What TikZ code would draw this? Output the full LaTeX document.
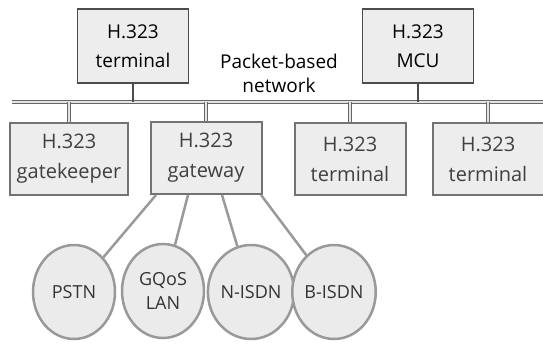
\documentclass[tikz,border=0pt]{standalone}
\usepackage{fontspec}
\setmainfont{Open Sans}
\usetikzlibrary{positioning}
\usetikzlibrary{shapes.geometric}

\tikzset{
  unitbox/.style={draw=black!70, line width=1.2pt, fill=black!7, align=center,
    inner sep=0pt, minimum width=111pt, minimum height=74pt,
    font=\fontsize{19}{29}\selectfont},
  lowbox/.style={unitbox, draw=black!55, line width=2pt, minimum height=72pt,
    text=black!75, font=\fontsize{20}{30}\selectfont},
  netcloud/.style={ellipse, draw=black!40, line width=2.5pt, fill=black!8,
    inner sep=0pt, minimum width=82pt, minimum height=94pt, align=center,
    font=\fontsize{18}{24}\selectfont, text=black!80},
  bus/.style={draw=black!60, double=black!10, double distance=2.4pt, line width=0.8pt},
  link/.style={draw=black!40, line width=2.5pt}
}

\begin{document}
\begin{tikzpicture}[x=1pt, y=-1pt]
  \useasboundingbox (0,0) rectangle (543,345);

  % oberer Teil
  \node[unitbox] (term) at (133,46) {H.323\\terminal};
  \node[unitbox] (mcu)  at (418,46) {H.323\\MCU};
  \node[align=center, font=\fontsize{19}{24}\selectfont] (pnet) at (279,73)
    {Packet-based\\network};

  % Bus
  \coordinate (busL) at (12,102);
  \coordinate (busR) at (543,102);
  \draw[bus] (busL) -- (busR);
  \foreach \n in {term,mcu}
    \draw[black!70, line width=1.2pt] (\n.south) -- (\n.south |- busL);

  % untere Kaesten
  \node[lowbox, minimum width=118pt] (gk) at (69,159) {H.323\\gatekeeper};
  \node[lowbox] (gw)    at (206,158) {H.323\\gateway};
  \node[lowbox] (term2) at (350,159) {H.323\\terminal};
  \node[lowbox] (term3) at (488,159) {H.323\\terminal};
  \foreach \n in {gk,gw,term2,term3}
    \draw[bus] (\n.north |- busL) -- (\n.north);

  % Netze
  \node[netcloud] (pstn)  at (74,292)  {PSTN};
  \node[netcloud] (qos)   at (163,291) {GQoS\\LAN};
  \node[netcloud] (nisdn) at (251,292) {N-ISDN};
  \node[netcloud] (bisdn) at (334,292) {B-ISDN};
  \draw[link] ([xshift=-50]gw.south) -- (pstn);
  \draw[link] ([xshift=-18]gw.south) -- (qos);
  \draw[link] ([xshift=16]gw.south)  -- (nisdn);
  \draw[link] ([xshift=55]gw.south)  -- (bisdn);
\end{tikzpicture}
\end{document}
